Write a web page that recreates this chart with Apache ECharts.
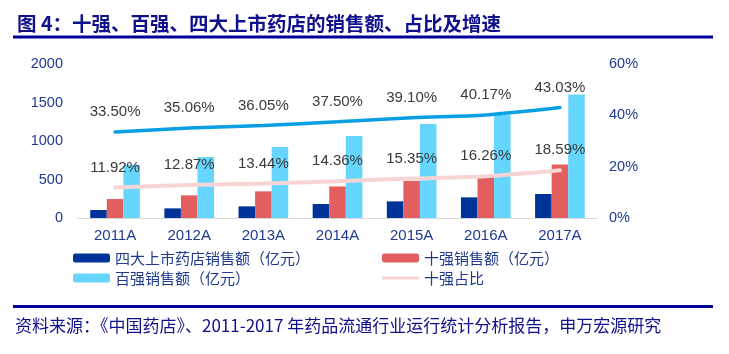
<!DOCTYPE html>
<html>
<head>
<meta charset="utf-8">
<script src="https://cdn.jsdelivr.net/npm/echarts@6/dist/echarts.min.js"></script>
<style>
  html, body { margin: 0; padding: 0; background: #fff; }
  #chart { width: 729px; height: 354px; }
</style>
</head>
<body>
<div id="chart"></div>
<script>
// 数据
var years = ['2011A', '2012A', '2013A', '2014A', '2015A', '2016A', '2017A'];
var top4Sales = [104, 125, 151, 182, 216, 268, 312];       // 四大上市药店销售额
var top10Sales = [247, 294, 346, 410, 481, 540, 696];      // 十强销售额
var top100Sales = [690, 792, 922, 1065, 1221, 1340, 1605]; // 百强销售额
var top10Share = [11.92, 12.87, 13.44, 14.36, 15.35, 16.26, 18.59];  // 十强占比
var top100Share = [33.50, 35.06, 36.05, 37.50, 39.10, 40.17, 43.03]; // 百强占比
var leftTicks = [0, 500, 1000, 1500, 2000];
var rightTicks = [0, 20, 40, 60];

var navy = '#10108c';
var axisColor = '#1f3a8f';
var numFont = '"Liberation Sans", Arial, sans-serif';
var cjkFont = '"Noto Sans CJK SC", sans-serif';

var myChart = echarts.init(document.getElementById('chart'));

var legendText = {
    fontSize: 15,
    color: axisColor,
    fontFamily: cjkFont,
    lineHeight: 16
};

var pctLabel = {
    show: true,
    position: 'top',
    distance: 12,
    fontSize: 15,
    fontFamily: numFont,
    color: '#3a3a3a',
    formatter: function (p) { return p.value.toFixed(2) + '%'; }
};

var option = {
    backgroundColor: '#fff',
    animation: false,
    title: {
        text: '图 4：十强、百强、四大上市药店的销售额、占比及增速',
        left: 12,
        top: 9,
        textStyle: {
            fontSize: 19.5,
            fontWeight: 'bold',
            color: navy,
            fontFamily: cjkFont
        }
    },
    graphic: [
        { type: 'rect', shape: { x: 13, y: 35.5, width: 700, height: 3 }, style: { fill: '#000099' } },
        { type: 'rect', shape: { x: 13, y: 305, width: 700, height: 3 }, style: { fill: '#000099' } },
        {
            type: 'text', left: 15, top: 317,
            style: {
                text: '资料来源：《中国药店》、2011-2017 年药品流通行业运行统计分析报告，申万宏源研究',
                fontSize: 17,
                fill: navy,
                fontFamily: cjkFont
            }
        }
    ],
    legend: [{
        data: ['四大上市药店销售额（亿元）', '百强销售额（亿元）'],
        orient: 'vertical',
        left: 68,
        top: 245,
        itemWidth: 37,
        itemHeight: 9,
        itemGap: 4,
        textStyle: legendText
    }, {
        data: ['十强销售额（亿元）', { name: '十强占比', icon: 'path://M0,0H40V3H0Z' }],
        orient: 'vertical',
        left: 377,
        top: 245,
        itemWidth: 37,
        itemHeight: 9,
        itemGap: 4,
        textStyle: legendText
    }],
    grid: {
        left: 78,
        right: 132,
        top: 64,
        bottom: 136
    },
    xAxis: {
        type: 'category',
        data: years,
        axisLine: { lineStyle: { color: '#d9d9d9', width: 1 } },
        axisTick: { show: false },
        axisLabel: {
            color: axisColor,
            fontSize: 15,
            fontFamily: numFont,
            margin: 10
        }
    },
    yAxis: [{
        type: 'value',
        min: leftTicks[0],
        max: leftTicks[leftTicks.length - 1],
        interval: 500,
        splitLine: { show: false },
        axisLine: { show: false },
        axisTick: { show: false },
        axisLabel: {
            color: axisColor,
            fontSize: 14.5,
            fontFamily: numFont,
            margin: 15,
            formatter: function (v) { return String(v); }
        }
    }, {
        type: 'value',
        min: rightTicks[0],
        max: rightTicks[rightTicks.length - 1],
        interval: 20,
        splitLine: { show: false },
        axisLine: { show: false },
        axisTick: { show: false },
        axisLabel: {
            color: axisColor,
            fontSize: 14.5,
            fontFamily: numFont,
            margin: 12,
            formatter: '{value}%'
        }
    }],
    series: [{
        name: '四大上市药店销售额（亿元）',
        type: 'bar',
        data: top4Sales,
        barGap: '0%',
        barCategoryGap: '33%',
        itemStyle: { color: '#003399' }
    }, {
        name: '十强销售额（亿元）',
        type: 'bar',
        data: top10Sales,
        itemStyle: { color: '#e35f5f' }
    }, {
        name: '百强销售额（亿元）',
        type: 'bar',
        data: top100Sales,
        itemStyle: { color: '#66d6ff' }
    }, {
        name: '百强占比',
        type: 'line',
        yAxisIndex: 1,
        data: top100Share,
        smooth: 0.3,
        symbol: 'circle',
        symbolSize: 1,
        showSymbol: true,
        lineStyle: { color: '#0a9fe2', width: 3.5, cap: 'round' },
        itemStyle: { color: '#0a9fe2' },
        label: pctLabel,
        z: 5
    }, {
        name: '十强占比',
        type: 'line',
        yAxisIndex: 1,
        data: top10Share,
        smooth: 0.3,
        symbol: 'circle',
        symbolSize: 1,
        showSymbol: true,
        lineStyle: { color: '#f9d4d4', width: 4, cap: 'round' },
        itemStyle: { color: '#f9d4d4' },
        label: pctLabel,
        z: 5
    }]
};

myChart.setOption(option);
</script>
</body>
</html>
